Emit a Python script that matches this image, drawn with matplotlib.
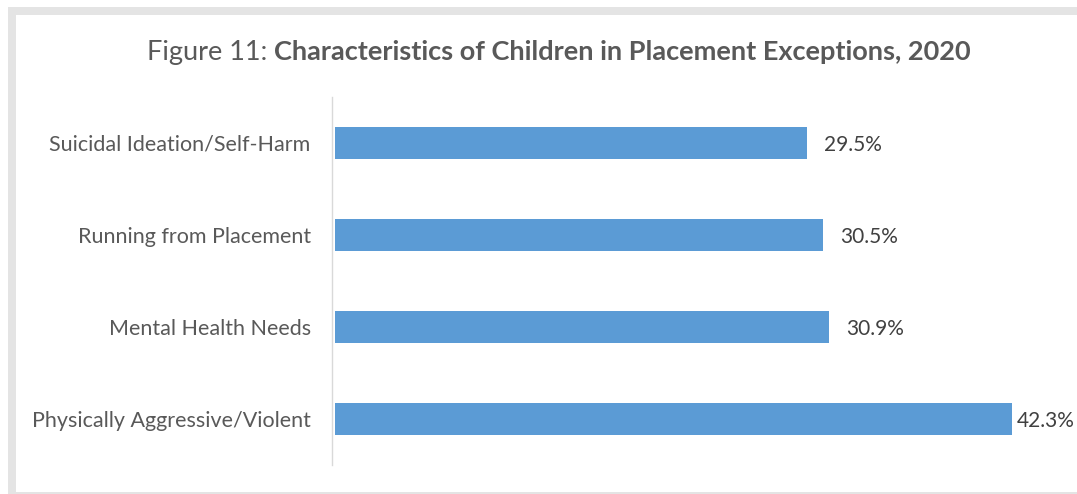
import matplotlib
matplotlib.use("Agg")
import matplotlib.pyplot as plt
from matplotlib.patches import Rectangle

categories = ["Physically Aggressive/Violent", "Mental Health Needs",
              "Running from Placement", "Suicidal Ideation/Self-Harm"]
values = [42.3, 30.9, 30.5, 29.5]
value_labels = ["42.3%", "30.9%", "30.5%", "29.5%"]
title_prefix = "Figure 11: "
title_bold = "Characteristics of Children in Placement Exceptions, 2020"

W, H = 1077, 494
fig = plt.figure(figsize=(W / 100, H / 100), dpi=100)
fig.patch.set_facecolor("white")
FONT = "Lato"

bg = fig.add_axes([0, 0, 1, 1], zorder=0)
bg.set_xlim(0, W)
bg.set_ylim(H, 0)
bg.axis("off")
bg.add_patch(Rectangle((8, 7), W, H, facecolor="#E4E4E4", edgecolor="none"))
bg.add_patch(Rectangle((16, 15), W, 477, facecolor="white", edgecolor="none"))

ax = fig.add_axes([335 / W, 1 - 465 / H, 720 / W, 368 / H], zorder=2)
ax.set_facecolor("none")
ypos = list(range(len(categories)))
ax.barh(ypos, values, height=0.35, color="#5B9BD5")
ax.set_xlim(0, 45)
ax.set_ylim(-0.5, 3.5)
ax.set_yticks(ypos)
ax.set_yticklabels(categories)
ax.tick_params(axis="y", length=0, pad=15.5, labelsize=15.5,
               labelcolor="#595959", labelfontfamily=FONT)
ax.set_xticks([])
for s in ["top", "right", "bottom"]:
    ax.spines[s].set_visible(False)
ax.spines["left"].set_color("#D9D9D9")
ax.spines["left"].set_linewidth(1.0)
ax.spines["left"].set_position(("outward", 2))

vtexts = []
for y, v, lab in zip(ypos, values, value_labels):
    t = ax.annotate(lab, (v, y), xytext=(12, -1.5), textcoords="offset points",
                    va="center", ha="left", fontsize=15, color="#404040",
                    family=FONT)
    vtexts.append(t)

t1 = fig.text(0.0, 1 - 60 / H, title_prefix, fontsize=19.5, color="#595959",
              family=FONT, va="baseline", ha="left", zorder=3)
t2 = fig.text(0.0, 1 - 60 / H, title_bold, fontsize=19.5, color="#595959",
              family=FONT, weight="bold", va="baseline", ha="left", zorder=3)
fig.canvas.draw()
r = fig.canvas.get_renderer()
w1 = t1.get_window_extent(r).width
w2 = t2.get_window_extent(r).width
start = 559 - (w1 + w2) / 2
t1.set_x(start / W)
t2.set_x((start + w1) / W)

# keep value labels inside the figure (like the reference does)
for t in vtexts:
    ext = t.get_window_extent(r)
    if ext.x1 > W - 2:
        shift_px = ext.x1 - (W - 2)
        ox, oy = t.xyann
        t.xyann = (max(ox - shift_px * 72 / 100, 3), oy)

fig.savefig("out.png", dpi=100)
